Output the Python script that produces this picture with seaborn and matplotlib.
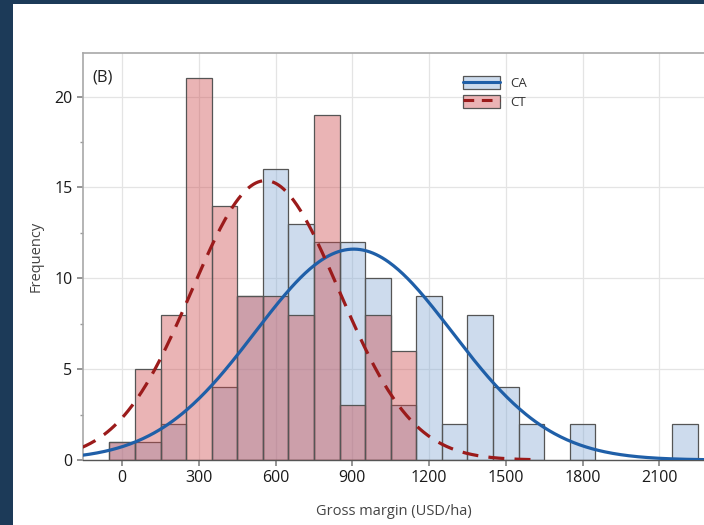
import numpy as np
import pandas as pd
import matplotlib
matplotlib.use("Agg")
import matplotlib.pyplot as plt
from matplotlib.patches import Patch, Rectangle
from matplotlib.lines import Line2D
from matplotlib.ticker import MultipleLocator
import seaborn as sns

# ---- data ----
bin_centers = [0, 100, 200, 300, 400, 500, 600, 700, 800, 900, 1000, 1100,
               1200, 1300, 1400, 1500, 1600, 1700, 1800, 1900, 2000, 2100, 2200]
ca_counts = [1, 1, 2, 0, 4, 9, 16, 13, 12, 12, 10, 3,
             9, 2, 8, 4, 2, 0, 2, 0, 0, 0, 2]
ct_counts = [1, 5, 8, 21, 14, 9, 9, 8, 19, 3, 8, 6,
             0, 0, 0, 0, 0, 0, 0, 0, 0, 0, 0]
bin_width = 100

# fitted normal curves
ca_mean, ca_sd = 905, 385
ct_mean, ct_sd = 560, 288
ct_curve_end = 1620

series_labels = ["CA", "CT"]
x_ticks = [0, 300, 600, 900, 1200, 1500, 1800, 2100]
y_ticks = [0, 5, 10, 15, 20]

# ---- style ----
sns.set_theme(style="white")
plt.rcParams["font.family"] = ["Open Sans", "DejaVu Sans"]

ca_face = (0.51, 0.655, 0.83, 0.40)
ct_face = (0.80, 0.27, 0.28, 0.40)
edge = "#555555"
ca_line = "#1f5fa8"
ct_line = "#9b1b1b"

fig = plt.figure(figsize=(7.04, 5.25), dpi=100)
fig.patch.set_facecolor("#1c3a58")
bg = Rectangle((13 / 704, 0), 1, 1 - 4 / 525, transform=fig.transFigure,
               facecolor="white", edgecolor="none", zorder=-10)
fig.patches.append(bg)

ax = fig.add_axes([83 / 704, 1 - 460 / 525, 1 - 83 / 704 + 0.002, (460 - 53) / 525])
ax.set_zorder(5)
ax.set_facecolor("white")

bin_lo = bin_centers[0] - bin_width / 2
bin_hi = bin_centers[-1] + bin_width / 2
df = pd.DataFrame({"x": bin_centers, "ca": ca_counts, "ct": ct_counts})

sns.histplot(data=df, x="x", weights="ca", binwidth=bin_width, binrange=(bin_lo, bin_hi),
             ax=ax, stat="count", edgecolor=edge, linewidth=0.9, zorder=2)
n_ca = len(ax.patches)
sns.histplot(data=df, x="x", weights="ct", binwidth=bin_width, binrange=(bin_lo, bin_hi),
             ax=ax, stat="count", edgecolor=edge, linewidth=0.9, zorder=3)
for i, p in enumerate(ax.patches):
    if p.get_height() == 0:
        p.set_visible(False)
    p.set_alpha(None)
    p.set_facecolor(ca_face if i < n_ca else ct_face)
    p.set_edgecolor(edge)

n_ca_tot = sum(ca_counts)
n_ct_tot = sum(ct_counts)
xa = np.linspace(-160, 2300, 400)
ya = n_ca_tot * bin_width / (ca_sd * np.sqrt(2 * np.pi)) * np.exp(-0.5 * ((xa - ca_mean) / ca_sd) ** 2)
xc = np.linspace(-160, ct_curve_end, 400)
yc = n_ct_tot * bin_width / (ct_sd * np.sqrt(2 * np.pi)) * np.exp(-0.5 * ((xc - ct_mean) / ct_sd) ** 2)
sns.lineplot(x=xa, y=ya, ax=ax, color=ca_line, linewidth=2.3, zorder=5)
sns.lineplot(x=xc, y=yc, ax=ax, color=ct_line, linewidth=2.3, zorder=5)
ax.lines[-1].set_dashes([5, 3.2])

ax.set_xlim(-153, 2280)
ax.set_ylim(0, 22.4)
ax.set_xticks(x_ticks)
ax.set_yticks(y_ticks)
ax.yaxis.set_minor_locator(MultipleLocator(2.5))
ax.grid(True, which="major", color="#e4e4e4", linewidth=0.9, zorder=0)
ax.set_axisbelow(True)
ax.tick_params(axis="both", which="major", labelsize=11.5, colors="#222222",
               length=4, color="#888888", direction="out", bottom=True, left=True)
ax.tick_params(axis="y", which="minor", length=2.5, color="#999999", left=True)
for lab in ax.get_xticklabels() + ax.get_yticklabels():
    lab.set_color("#1a1a1a")

for s in ["left", "top"]:
    ax.spines[s].set_color("#a8a8a8")
    ax.spines[s].set_linewidth(1.2)
ax.spines["bottom"].set_color("#555555")
ax.spines["bottom"].set_linewidth(1.0)
ax.spines["right"].set_visible(False)

ax.set_xlabel("Gross margin (USD/ha)", fontsize=10.5, color="#444444", labelpad=13)
ax.set_ylabel("Frequency", fontsize=10.5, color="#444444", labelpad=8)

ax.text(0.0145, 0.94, "(B)", transform=ax.transAxes, fontsize=12, color="#222222",
        va="center", ha="left")

h_ca = (Patch(facecolor=(0.80, 0.86, 0.93), edgecolor="#555555", linewidth=0.9),
        Line2D([0], [0], color=ca_line, linewidth=2.2))
h_ct = (Patch(facecolor=(0.92, 0.70, 0.71), edgecolor="#555555", linewidth=0.9),
        Line2D([0], [0], color=ct_line, linewidth=2.2, dashes=[3.5, 2.5]))
leg = ax.legend([h_ca, h_ct], series_labels, loc="upper left",
                bbox_to_anchor=(0.595, 0.965), frameon=False, fontsize=9.5,
                handlelength=2.8, handleheight=1.1, handletextpad=0.8,
                labelspacing=0.35, borderpad=0.2)
for t in leg.get_texts():
    t.set_color("#333333")

fig.savefig("out.png", dpi=100, facecolor=fig.get_facecolor())
